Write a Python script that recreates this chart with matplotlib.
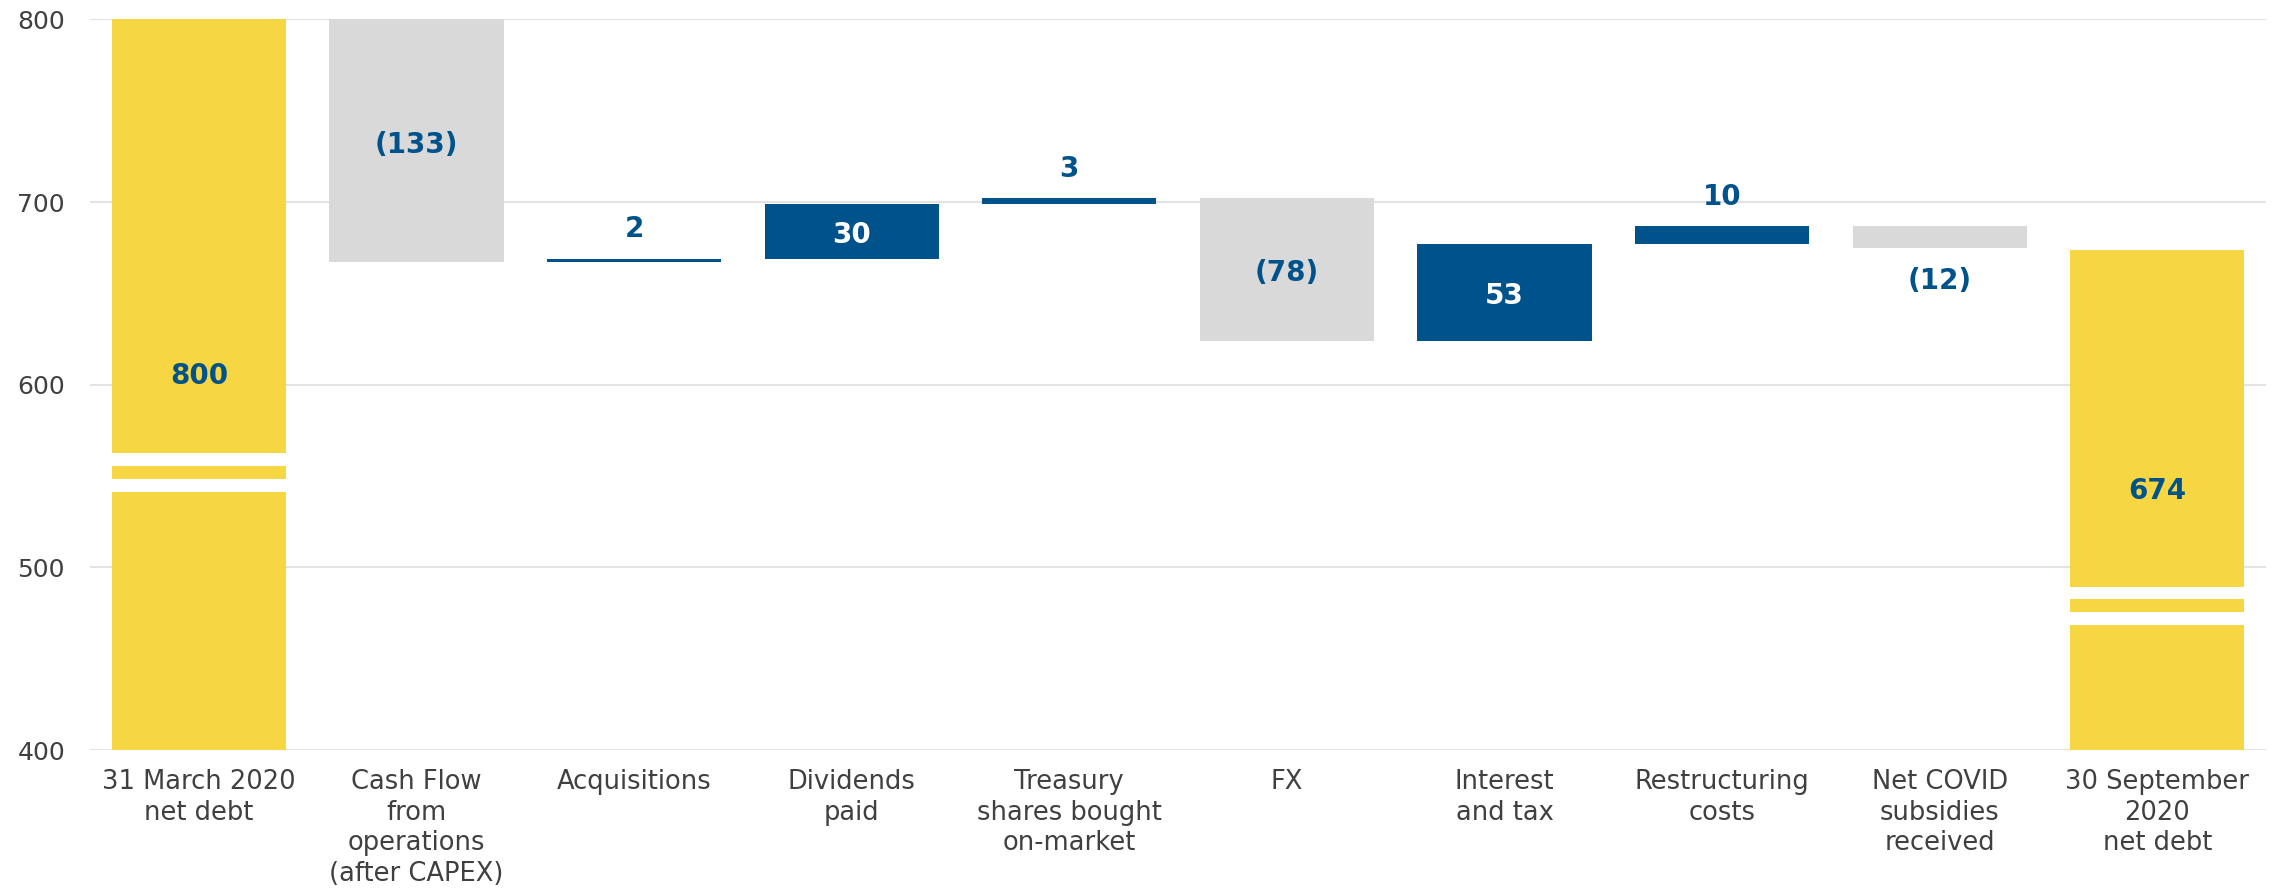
import matplotlib

matplotlib.use("Agg")
import matplotlib.pyplot as plt
import numpy as np

# Données du graphique (en cascade)
categories = [
    "31 March 2020\nnet debt",
    "Cash Flow\nfrom\noperations\n(after CAPEX)",
    "Acquisitions",
    "Dividends\npaid",
    "Treasury\nshares bought\non-market",
    "FX",
    "Interest\nand tax",
    "Restructuring\ncosts",
    "Net COVID\nsubsidies\nreceived",
    "30 September\n2020\nnet debt",
]
start_total = 800
changes = [-133, 2, 30, 3, -78, 53, 10, -12]
end_total = 674
y_ticks = [400, 500, 600, 700, 800]

# Couleurs
YELLOW = "#F6D743"
GREY = "#D9D9D9"
BLUE = "#00538A"
TEXT = "#404040"

# Positions des coupures sur les barres de total (style)
break_centers = {0: 552, 9: 479}

fig = plt.figure(figsize=(22.75, 8.93), dpi=100)
ax = fig.add_axes([0.0396, 0.1601, 0.9565, 0.8181])

ymin = y_ticks[0]
width = 0.8

# Barres de total
totals = {0: start_total, 9: end_total}
for i, tot in totals.items():
    ax.bar(i, tot - ymin, bottom=ymin, width=width, color=YELLOW, zorder=2)
    c = break_centers[i]
    for lo in (c - 10.5, c + 3.5):
        ax.bar(i, 7, bottom=lo, width=width + 0.02, color="white", zorder=3)
    ax.text(i, (ymin + tot) / 2 + 5, str(tot), ha="center", va="center",
            color=BLUE, fontsize=20, fontweight="bold", zorder=4)

# Barres de variation
level = start_total
for k, v in enumerate(changes):
    i = k + 1
    bottom = level if v >= 0 else level + v
    col = BLUE if v >= 0 else GREY
    ax.bar(i, abs(v), bottom=bottom, width=width, color=col, zorder=2)
    label = str(v) if v >= 0 else "(%d)" % abs(v)
    if abs(v) >= 20:
        tcol = "white" if v >= 0 else BLUE
        ax.text(i, bottom + abs(v) / 2 - 2, label, ha="center", va="center",
                color=tcol, fontsize=20, fontweight="bold", zorder=4)
    elif v >= 0:
        ax.annotate(label, (i, bottom + abs(v)), xytext=(0, 11), textcoords="offset points",
                    ha="center", va="bottom", color=BLUE, fontsize=20, fontweight="bold")
    else:
        ax.annotate(label, (i, bottom), xytext=(0, -14), textcoords="offset points",
                    ha="center", va="top", color=BLUE, fontsize=20, fontweight="bold")
    level += v

ax.set_xlim(-0.5, len(categories) - 0.5)
ax.set_ylim(y_ticks[0], y_ticks[-1])
ax.set_yticks(y_ticks)
ax.set_xticks(np.arange(len(categories)))
ax.set_xticklabels(categories, fontsize=18.5, color=TEXT, linespacing=1.22)
ax.tick_params(axis="y", length=0, pad=18, labelsize=18, labelcolor=TEXT)
ax.tick_params(axis="x", length=0, pad=14)
ax.grid(True, axis="y", color="#E3E3E3", linewidth=1.5, zorder=0)
ax.set_axisbelow(True)
for s in ax.spines.values():
    s.set_visible(False)

fig.savefig("out.png", dpi=100, facecolor="white")
